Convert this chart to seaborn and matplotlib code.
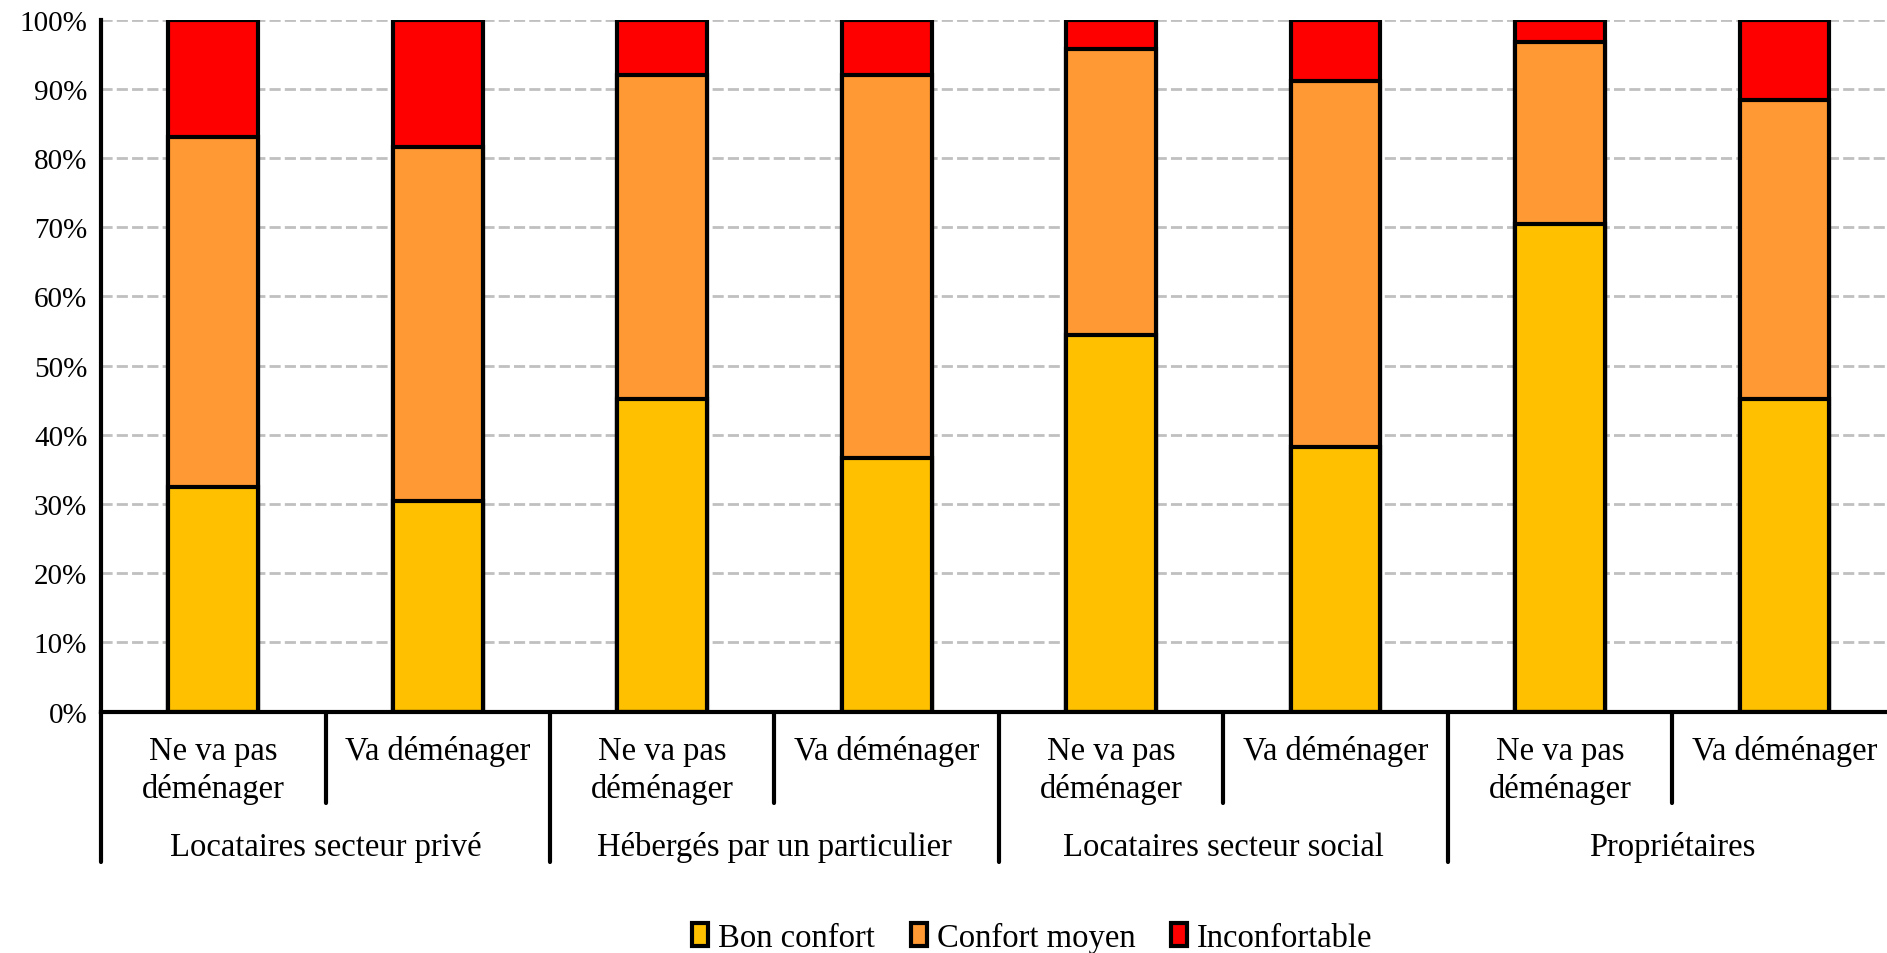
import matplotlib
matplotlib.use('Agg')
import matplotlib.pyplot as plt
import matplotlib.transforms as mtransforms
from matplotlib.patches import Patch
import pandas as pd
import seaborn as sns

# Data (percentages)
groups = ['Locataires secteur privé', 'Hébergés par un particulier',
          'Locataires secteur social', 'Propriétaires']
sub_labels = ['Ne va pas\ndéménager', 'Va déménager']
bon_confort = [32.5, 30.4, 45.2, 36.7, 54.4, 38.3, 70.4, 45.2]
confort_moyen = [50.5, 51.2, 46.8, 55.3, 41.4, 52.8, 26.3, 43.1]
inconfortable = [17.0, 18.4, 8.0, 8.0, 4.2, 8.9, 3.3, 11.7]

series_names = ['Bon confort', 'Confort moyen', 'Inconfortable']
colors = ['#FFC000', '#FF9933', '#FF0000']

bars = [g + ' / ' + s for g in groups for s in sub_labels]
df = pd.DataFrame({'bar': bars, 'bon': bon_confort,
                   'moyen': confort_moyen, 'inc': inconfortable})
df['cum1'] = df['bon']
df['cum2'] = df['bon'] + df['moyen']
df['cum3'] = df['cum2'] + df['inc']

sns.set_style('white')
plt.rcParams['font.family'] = ['Liberation Serif', 'DejaVu Serif']
plt.rcParams['text.color'] = 'black'
plt.rcParams['ytick.labelcolor'] = 'black'

fig = plt.figure(figsize=(18.87, 9.54), dpi=100)
ax = fig.add_axes([0.0536, 0.253, 0.9515, 0.7255])

# stacked bars: draw cumulative totals from top to bottom
for col, c in zip(['cum3', 'cum2', 'cum1'], colors[::-1]):
    sns.barplot(x='bar', y=col, data=df, order=bars, color=c,
                edgecolor='black', linewidth=3.0, width=0.4,
                errorbar=None, saturation=1, ax=ax)

ax.set_xlim(-0.5, len(bars) - 0.5)
ax.set_ylim(0, 100)
ax.set_yticks(range(0, 101, 10))
ax.set_yticklabels([f'{v}%' for v in range(0, 101, 10)], fontsize=21)
ax.set_xticks([])
ax.set_xlabel('')
ax.set_ylabel('')
ax.yaxis.grid(True, color='#C0C0C0', linestyle=(0, (4, 1.5)), linewidth=2)
ax.set_axisbelow(True)
ax.tick_params(axis='y', direction='out', length=6, width=3, color='black', pad=4)
for s in ['top', 'right']:
    ax.spines[s].set_visible(False)
ax.spines['left'].set_linewidth(3)
ax.spines['left'].set_color('black')
ax.spines['bottom'].set_linewidth(3)
ax.spines['bottom'].set_color('black')

# multi-level category axis
trans = mtransforms.blended_transform_factory(ax.transData, ax.transAxes)
for i in range(len(bars) + 1):
    x = i - 0.5
    y_end = -0.217 if i % 2 == 0 else -0.132
    ax.plot([x, x], [0, y_end], color='black', lw=3, transform=trans,
            clip_on=False, solid_capstyle='round')
for i, b in enumerate(bars):
    ax.text(i, -0.034, sub_labels[i % 2], transform=trans, ha='center',
            va='top', fontsize=23.5, linespacing=1.3)
for j, g in enumerate(groups):
    ax.text(2 * j + 0.5, -0.195, g, transform=trans, ha='center',
            va='center', fontsize=23.5)

handles = [Patch(facecolor=c, edgecolor='black', linewidth=3) for c in colors]
fig.legend(handles, series_names, loc='center', bbox_to_anchor=(0.547, 0.016),
           ncol=3, frameon=False, fontsize=23.5, handlelength=0.5,
           handleheight=0.7, handletextpad=0.3, columnspacing=1.1)

plt.savefig('out.png', dpi=100)
plt.close()
